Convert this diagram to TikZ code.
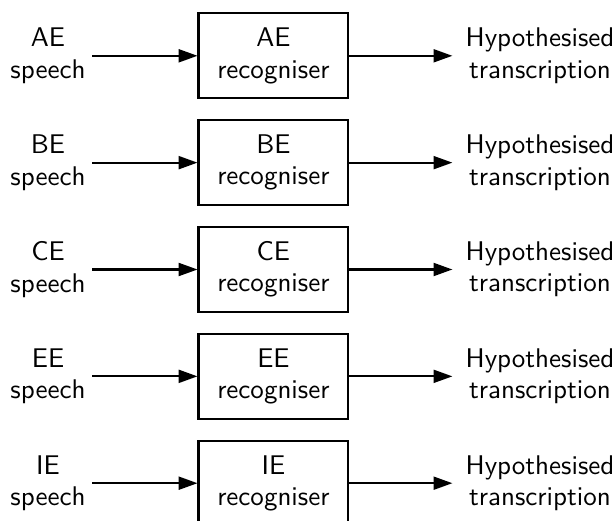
\documentclass[tikz,border=0pt]{standalone}
\usetikzlibrary{arrows.meta}
\begin{document}
\begin{tikzpicture}[x=0.3922pt,y=-0.3922pt, line width=0.8pt,
  lab/.style={align=center, font=\fontsize{10.6}{12.3}\selectfont\sffamily, inner ysep=0pt},
  lefttext/.style={lab, inner xsep=2.3pt},
  righttext/.style={lab, inner xsep=4.8pt},
  recbox/.style={draw, align=center, font=\fontsize{10.6}{12.3}\selectfont\sffamily, inner sep=0pt,
    minimum width=58.75pt, minimum height=33.34pt},
  arr/.style={-{Triangle[length=7.4pt,width=5.1pt]}}]
\useasboundingbox (0,0) rectangle (614,521);
\foreach \k/\n in {0/AE,1/BE,2/CE,3/EE,4/IE}{
  \pgfmathsetmacro{\yc}{55.8+106.85*\k}
  \node[lefttext] (l\k) at (48,\yc) {\n\\speech};
  \node[recbox] (b\k) at (273.4,\yc) {\n\\recogniser};
  \node[righttext] (r\k) at (540,\yc) {Hypothesised\\transcription};
  \draw[arr] (l\k.east) -- (b\k.west);
  \draw[arr] (b\k.east) -- (r\k.west);
}
\end{tikzpicture}
\end{document}
